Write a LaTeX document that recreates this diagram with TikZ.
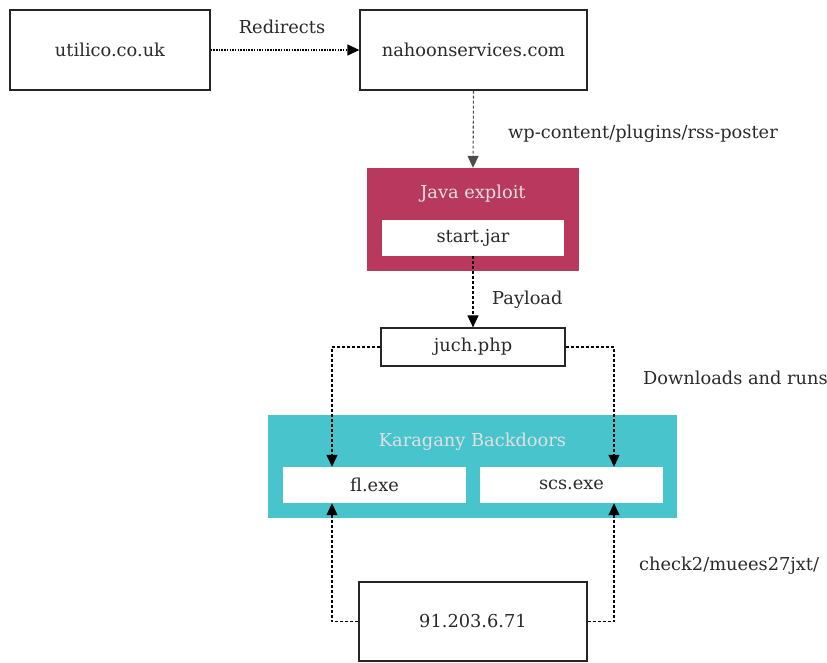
\documentclass[tikz,border=0pt]{standalone}
\usepackage{fontspec}
\setmainfont{DejaVu Serif}
\usetikzlibrary{arrows.meta}
\definecolor{txt}{HTML}{2A2A2A}
\definecolor{crim}{HTML}{B8395D}
\definecolor{teal}{HTML}{47C4CC}
\tikzset{
  box/.style={draw=black!85, line width=1.3pt, fill=white, rectangle, inner sep=0pt, text=txt},
  inbox/.style={fill=white, rectangle, inner sep=0pt, text=txt, minimum width=182pt, minimum height=36pt},
  group/.style={rectangle, inner sep=0pt},
  ttl/.style={text=white!88!black, inner sep=0pt},
  lbl/.style={text=txt, inner sep=0pt},
  conn/.style={line width=1.1pt, dash pattern=on 3pt off 2pt, -{Triangle[length=12pt,width=11pt]}},
  dotconn/.style={line width=1.3pt, dash pattern=on 1.5pt off 1.2pt, -{Triangle[length=12pt,width=11pt]}},
}
\begin{document}
\begin{tikzpicture}[x=1pt,y=-1pt,font=\fontsize{17.8}{21}\selectfont]
\useasboundingbox (0,0) rectangle (827,662);
% boxes
\node[box, minimum width=200pt, minimum height=80pt] (uti) at (110,50) {utilico.co.uk};
\node[box, minimum width=227pt, minimum height=80pt] (nah) at (473.5,50) {nahoonservices.com};
\node[group, fill=crim, minimum width=212pt, minimum height=103pt] (java) at (473,219.5) {};
\node[ttl, anchor=base] (javat) at (473,198) {Java exploit};
\node[inbox] (start) at (473,238) {start.jar};
\node[box, line width=1.2pt, minimum width=184pt, minimum height=38pt] (juch) at (473,347) {juch.php};
\node[group, fill=teal, minimum width=409pt, minimum height=103pt] (kar) at (472.5,466.5) {};
\node[ttl, anchor=base] (kart) at (472.5,446) {Karagany Backdoors};
\node[inbox, minimum width=183pt] (fl) at (374.5,485) {fl.exe};
\node[inbox, minimum width=183pt] (scs) at (571.5,485) {scs.exe};
\node[box, line width=1.2pt, minimum width=228pt, minimum height=79pt] (ip) at (473,621.5) {91.203.6.71};
% labels
\node[lbl, anchor=base] (lred) at (282,33) {Redirects};
\node[lbl, anchor=base west] (lwp) at (508,138) {wp-content/plugins/rss-poster};
\node[lbl, anchor=base west] (lpay) at (492,304) {Payload};
\node[lbl, anchor=base west] (ldl) at (643,384) {Downloads and runs};
\node[lbl, anchor=base west] (lck) at (639,570) {check2/muees27jxt/};
% connectors
\coordinate (lx) at (332,0);
\coordinate (rx) at (614,0);
\draw[dotconn] (uti.east) -- (nah.west);
\draw[conn, draw=black!70] (nah.south) -- (java.north);
\draw[conn] (start.south) -- (juch.north);
\draw[conn] (juch.west) -| (lx |- fl.north);
\draw[conn] (juch.east) -| (rx |- scs.north);
\draw[conn] (ip.west) -| (lx |- fl.south);
\draw[conn] (ip.east) -| (rx |- scs.south);
\end{tikzpicture}
\end{document}
